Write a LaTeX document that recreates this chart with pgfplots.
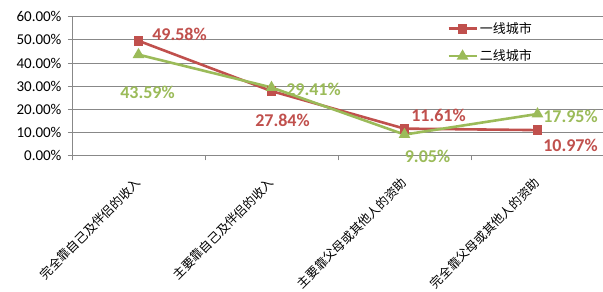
\documentclass[border=0pt]{standalone}
\usepackage{fontspec}
\setmainfont{Carlito}
\newfontfamily\cjk{Noto Sans CJK SC}
\usepackage{pgfplots}
\pgfplotsset{compat=1.18}
\usepackage{pgfplotstable}

\definecolor{cityA}{HTML}{C0504D}
\definecolor{cityB}{HTML}{9BBB59}
\definecolor{gridc}{HTML}{888888}

% x: category index, y: share in percent, dx/dy: label offset in pt
\pgfplotstableread{
x y dx dy
0 49.58 41 6
1 27.84 11 -29
2 11.61 34 13
3 10.97 33 -15
}\tierone
\pgfplotstableread{
x y dx dy
0 43.59 9 -38
1 29.41 42 -2
2 9.05 23 -22
3 17.95 33 -2
}\tiertwo

\pgfplotsset{
  valuelabels/.style={
    nodes near coords={\pgfmathprintnumber[fixed,precision=2,fixed zerofill]{\pgfplotspointmeta}\%},
    point meta=\thisrow{y},
    visualization depends on={\thisrow{dx} \as \ldx},
    visualization depends on={\thisrow{dy} \as \ldy},
    every node near coord/.append style={anchor=center, inner sep=0pt,
      xshift=\ldx pt, yshift=\ldy pt,
      font=\bfseries\fontsize{18}{18}\selectfont, text=#1},
  },
}

\begin{document}
\begin{tikzpicture}
\begin{axis}[
  name=ax,
  scale only axis, width=532pt, height=138.8pt,
  xmin=-0.5, xmax=3.5, ymin=0, ymax=60,
  axis x line*=bottom, axis y line*=left,
  axis line style={gridc, line width=0.8pt, -},
  ymajorgrids, major grid style={gridc, line width=0.8pt},
  ytick={0,10,...,60},
  yticklabel={\pgfmathprintnumber[fixed,precision=2,fixed zerofill]{\tick}\%},
  /pgf/number format/assume math mode=true,
  yticklabel style={font=\fontsize{15}{15}\selectfont, xshift=-3pt},
  tick align=outside, major tick length=4pt, minor tick length=5pt,
  tick style={gridc, line width=0.8pt},
  xtick={0,1,2,3},
  major x tick style={draw=none},
  minor xtick={-0.5,0.5,1.5,2.5,3.5},
  xticklabels={完全靠自己及伴侣的收入, 主要靠自己及伴侣的收入, 主要靠父母或其他人的资助, 完全靠父母或其他人的资助},
  xticklabel style={font=\cjk\fontsize{12.4}{12.4}\selectfont, rotate=45, anchor=east, inner sep=0pt},
  xticklabel shift=21pt,
  legend style={at={(0.705,0.975)}, anchor=north west, draw=none, fill=none,
    font=\cjk\fontsize{13}{13}\selectfont, row sep=11pt, inner sep=0pt},
  legend cell align=left,
  legend image code/.code={\draw[mark repeat=2, mark phase=2] plot coordinates {(0pt,0pt) (14pt,0pt) (28pt,0pt)};},
  clip=false,
]
\addplot[cityA, line width=2.6pt, mark=square*, mark size=3.6pt, mark options={solid}, valuelabels=cityA]
  table[x=x, y=y] {\tierone};
\addlegendentry{一线城市}
\addplot[cityB, line width=2.6pt, mark=triangle*, mark size=4.2pt, mark options={solid}, valuelabels=cityB]
  table[x=x, y=y] {\tiertwo};
\addlegendentry{二线城市}
\end{axis}
\pgfresetboundingbox
\path[use as bounding box] ([xshift=-72pt, yshift=-136.5pt]ax.south west) rectangle ([xshift=-1pt, yshift=16.7pt]ax.north east);
\end{tikzpicture}
\end{document}
